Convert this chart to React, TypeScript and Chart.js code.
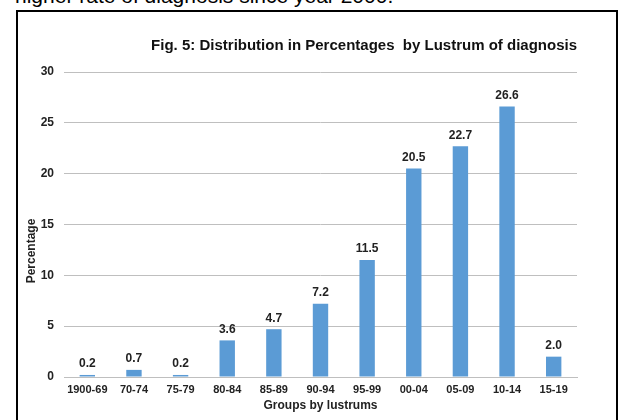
import React, { useEffect, useRef } from "react";
import { Chart, registerables } from "chart.js";

Chart.register(...registerables);

const categories = ["1900-69", "70-74", "75-79", "80-84", "85-89", "90-94", "95-99", "00-04", "05-09", "10-14", "15-19"];
const percentages = [0.2, 0.7, 0.2, 3.6, 4.7, 7.2, 11.5, 20.5, 22.7, 26.6, 2.0];
const yTicks = [0, 5, 10, 15, 20, 25, 30];
const titleText = "Fig. 5: Distribution in Percentages  by Lustrum of diagnosis";
const yTitleText = "Percentage";
const captionText = "higher rate of diagnosis since year 2000.";

const FONT = "'Liberation Sans', Arial, Helvetica, sans-serif";

const labelPlugin = {
  id: "barLabels",
  afterDatasetsDraw(chart: any) {
    const ctx = chart.ctx;
    const meta = chart.getDatasetMeta(0);
    ctx.save();
    ctx.font = `bold 12px ${FONT}`;
    ctx.fillStyle = "#222";
    ctx.textAlign = "center";
    ctx.textBaseline = "middle";
    meta.data.forEach((bar: any, i: number) => {
      ctx.fillText(percentages[i].toFixed(1), bar.x, bar.y - 11);
    });
    ctx.restore();
  },
};

const titlePlugin = {
  id: "customTitle",
  afterDraw(chart: any) {
    const ctx = chart.ctx;
    ctx.save();
    ctx.font = `bold 15px ${FONT}`;
    ctx.fillStyle = "#111";
    ctx.textAlign = "right";
    ctx.textBaseline = "middle";
    ctx.fillText(titleText, chart.chartArea.right, 34);
    // y axis title, placed slightly below the plot's middle as in the reference
    ctx.font = `bold 12px ${FONT}`;
    ctx.fillStyle = "#222";
    ctx.textAlign = "center";
    ctx.translate(14, 239);
    ctx.rotate(-Math.PI / 2);
    ctx.fillText(yTitleText, 0, 0);
    ctx.restore();
  },
};

export default function App() {
  const canvasRef = useRef<HTMLCanvasElement | null>(null);

  useEffect(() => {
    document.body.style.margin = "0";
    const canvas = canvasRef.current;
    if (!canvas) return;
    const chart = new Chart(canvas, {
      type: "bar",
      data: {
        labels: categories,
        datasets: [
          {
            data: percentages,
            backgroundColor: "#5B9BD5",
            borderWidth: 0,
            barPercentage: 0.33,
            categoryPercentage: 1,
          },
        ],
      },
      options: {
        animation: false,
        responsive: false,
        maintainAspectRatio: false,
        layout: { padding: { left: 0, right: 39, top: 60, bottom: 0 } },
        plugins: {
          legend: { display: false },
          title: { display: false },
          tooltip: { enabled: false },
        },
        scales: {
          x: {
            grid: { display: false, drawTicks: false },
            border: { display: true, color: "#bfbfbf", width: 1 },
            ticks: {
              padding: 6,
              color: "#222",
              font: { family: FONT, size: 11, weight: "bold" },
              maxRotation: 0,
              autoSkip: false,
            },
            title: {
              display: true,
              text: "Groups by lustrums",
              color: "#222",
              font: { family: FONT, size: 12, weight: "bold" },
              padding: { top: 7, bottom: 7 },
            },
            afterFit(scale: any) {
              scale.height = 43;
            },
          },
          y: {
            min: 0,
            max: 30,
            afterBuildTicks(scale: any) {
              scale.ticks = yTicks.map((v) => ({ value: v }));
            },
            grid: { color: "#bfbfbf", lineWidth: 1, drawTicks: false },
            border: { display: false },
            ticks: {
              padding: 10,
              color: "#222",
              font: { family: FONT, size: 12, weight: "bold" },
            },
            title: { display: false },
            afterFit(scale: any) {
              scale.width = 46;
            },
          },
        },
      },
      plugins: [labelPlugin, titlePlugin],
    });
    return () => chart.destroy();
  }, []);

  return (
    <div
      style={{
        position: "fixed",
        left: 0,
        top: 0,
        width: 621,
        height: 420,
        overflow: "hidden",
        background: "#fff",
        fontFamily: FONT,
      }}
    >
      <div
        style={{
          position: "absolute",
          left: 15,
          top: -15,
          fontSize: 21,
          lineHeight: "21px",
          color: "#000",
          whiteSpace: "nowrap",
        }}
      >
        {captionText}
      </div>
      <div
        style={{
          position: "absolute",
          left: 16,
          top: 10,
          width: 598,
          height: 430,
          border: "2px solid #000",
          background: "#fff",
        }}
      >
        <canvas
          ref={canvasRef}
          width={598}
          height={408}
          style={{ display: "block", width: 598, height: 408 }}
        />
      </div>
    </div>
  );
}
